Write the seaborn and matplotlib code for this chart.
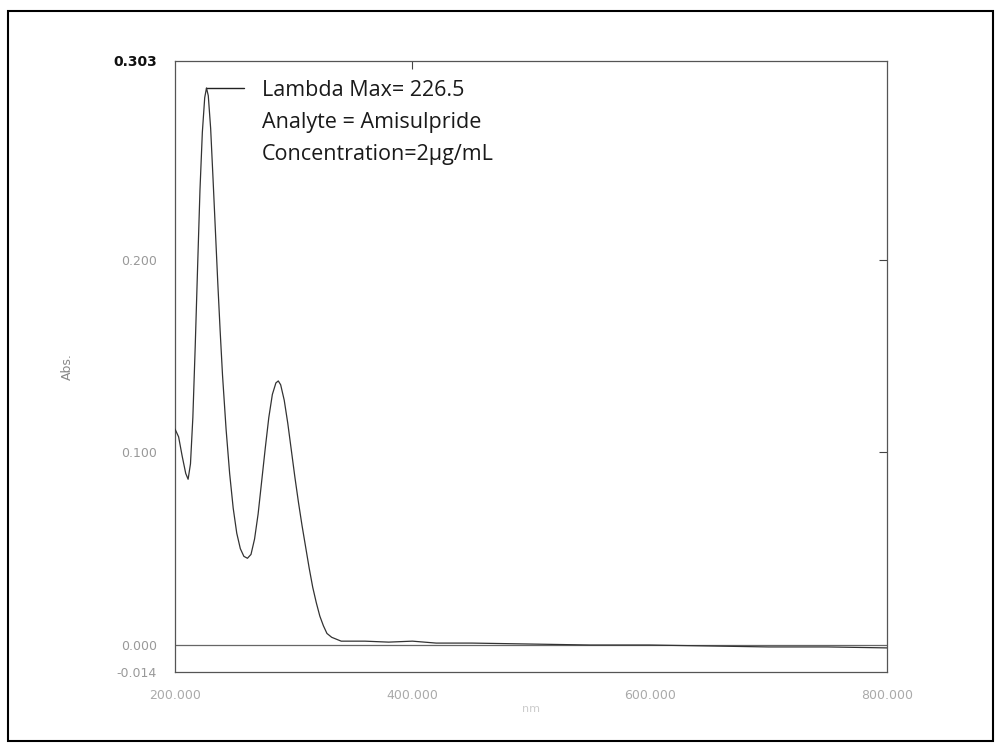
import numpy as np
import pandas as pd
import matplotlib.pyplot as plt
import seaborn as sns
from matplotlib.patches import Rectangle

sns.set_theme(style="white")
plt.rcParams['font.family'] = ['DejaVu Sans']

# spectrum (nm, Abs.)
wavelength = [200, 203, 206, 209, 211, 213, 215, 217, 219, 221, 223, 225, 226.5,
              228, 230, 232, 234, 236, 238, 240, 243, 246, 249, 252, 255, 258,
              261, 264, 267, 270, 273, 276, 279, 282, 285, 287, 289, 292, 295,
              298, 301, 304, 307, 310, 313, 316, 319, 322, 325, 328, 332, 336,
              340, 360, 380, 400, 420, 450, 500, 550, 600, 650, 700, 750, 800]
absorbance = [0.112, 0.108, 0.098, 0.089, 0.086, 0.094, 0.118, 0.155, 0.196, 0.236,
              0.266, 0.284, 0.289, 0.285, 0.268, 0.242, 0.215, 0.188, 0.163, 0.140,
              0.112, 0.089, 0.071, 0.058, 0.050, 0.046, 0.045, 0.047, 0.055, 0.068,
              0.085, 0.102, 0.118, 0.130, 0.136, 0.137, 0.135, 0.127, 0.115, 0.101,
              0.087, 0.074, 0.062, 0.051, 0.040, 0.030, 0.022, 0.015, 0.010, 0.006,
              0.004, 0.003, 0.002, 0.002, 0.0015, 0.002, 0.001, 0.001, 0.0005, 0.0,
              0.0, -0.0005, -0.001, -0.001, -0.0015]

y_ticks = [-0.014, 0.000, 0.100, 0.200, 0.303]
y_labels = ["-0.014", "0.000", "0.100", "0.200", "0.303"]
x_ticks = [200, 400, 600, 800]
x_labels = ["200.000", "400.000", "600.000", "800.000"]
notes = ["Lambda Max= 226.5", "Analyte = Amisulpride", "Concentration=2\u00b5g/mL"]

df = pd.DataFrame({"nm": wavelength, "Abs.": absorbance})

fig = plt.figure(figsize=(10.02, 7.51), dpi=100)
ax = fig.add_axes([0.1747, 0.1052, 0.7106, 0.8136])

# zero line
ax.axhline(0, color="#666666", lw=0.9, zorder=1)
sns.lineplot(data=df, x="nm", y="Abs.", ax=ax, color="#333333", lw=0.9, zorder=3)

ax.set_xlim(200, 800)
ax.set_ylim(-0.014, 0.303)

ax.set_yticks(y_ticks)
ax.set_yticklabels(y_labels)
ax.set_xticks(x_ticks)
ax.set_xticklabels(x_labels)
for lab in ax.get_yticklabels():
    lab.set_color("#999999")
    lab.set_fontsize(9)
ax.get_yticklabels()[-1].set_color("#111111")
ax.get_yticklabels()[-1].set_fontweight("bold")
ax.get_yticklabels()[-1].set_fontsize(10)
for lab in ax.get_xticklabels():
    lab.set_color("#aaaaaa")
    lab.set_fontsize(9)

ax.tick_params(axis="y", direction="out", length=5, width=0.8, color="#444444", pad=8)
ax.tick_params(axis="x", direction="in", length=6, width=0.8, color="#444444", pad=12)

# inward ticks on the right and top edges
ax_r = ax.secondary_yaxis("right")
ax_r.set_yticks([0.100, 0.200])
ax_r.tick_params(direction="in", length=6, width=0.8, color="#444444", labelright=False)
ax_r.spines["right"].set_visible(False)
ax_t = ax.secondary_xaxis("top")
ax_t.set_xticks([400])
ax_t.tick_params(direction="in", length=6, width=0.8, color="#444444", labeltop=False)
ax_t.spines["top"].set_visible(False)

ax.set_xlabel("nm", color="#cccccc", fontsize=8, labelpad=2)
ax.set_ylabel("Abs.", color="#888888", fontsize=9, labelpad=28)

for s in ax.spines.values():
    s.set_color("#555555")
    s.set_linewidth(0.9)

# lambda max marker line + notes
i = int(np.argmax(absorbance))
ax.plot([wavelength[i], wavelength[i] + 32], [absorbance[i], absorbance[i]],
        color="#222222", lw=1.0)
for k, t in enumerate(notes):
    ax.text(0.122, 0.9525 - k * 0.053, t, transform=ax.transAxes, fontsize=15.5,
            family="Open Sans", color="#1a1a1a", va="center", ha="left")

# outer frame of the scanned page
fig.patches.append(Rectangle((0.008, 0.013), 0.983, 0.973, transform=fig.transFigure,
                             fill=False, edgecolor="black", lw=1.5))

fig.savefig("out.png", dpi=100)
